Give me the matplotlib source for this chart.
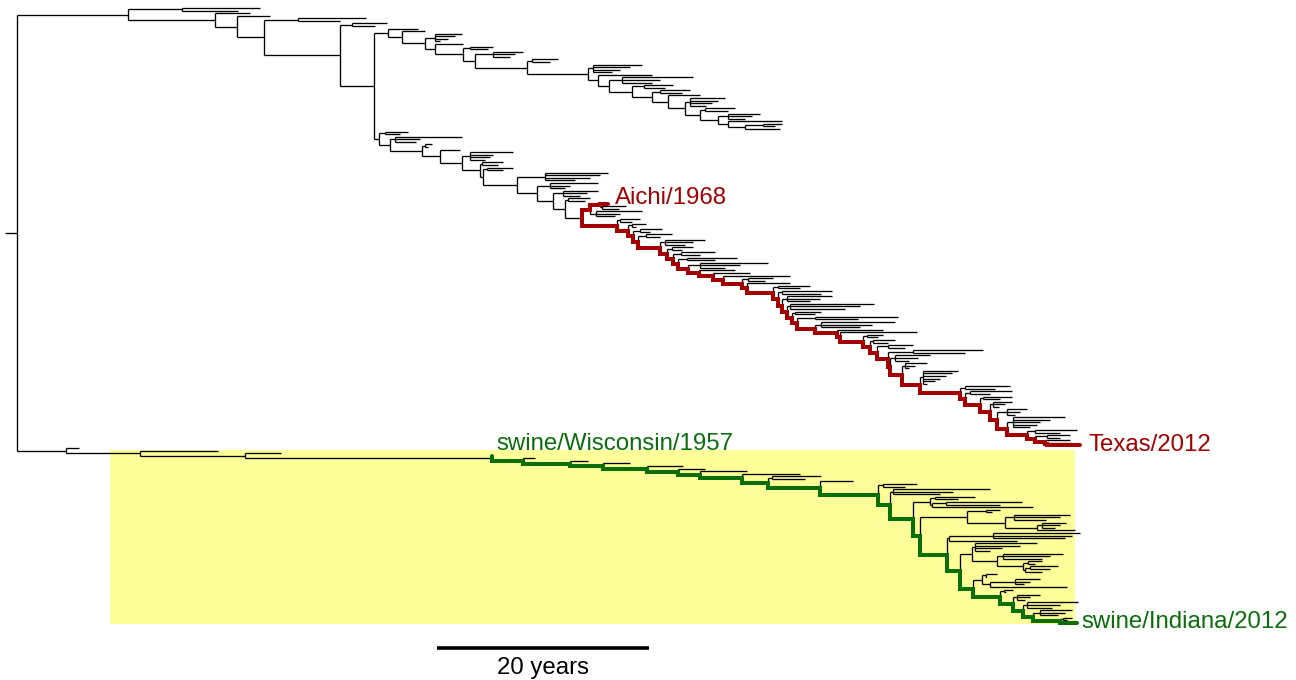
import matplotlib
matplotlib.use("Agg")
import matplotlib.pyplot as plt
from matplotlib.collections import LineCollection
from matplotlib.patches import Rectangle

# ---------------------------------------------------------------- data (years)
root_year = 1911.9
root_stub_year = 1910.8

# Each ladder: trunk node years, side-clade MRCA years (None = single tip),
# side-clade tip years (or name of a nested ladder), end of trunk.
early_nodes = [1922.4, 1930.6, 1932.7, 1935.2, 1942.4, 1945.6]
early_mrca = [1927.5, None, None, 1938.4, 1943.5, None]
early_tips = [[1934.8, 1932.8], [1933.9], [1935.8], [1944.8, 1942.4],
              [1946.8, 1945.7], "seasonal"]
early_end = "h3n2"

seasonal_nodes = [1946.9, 1948.2, 1950.4, 1951.3, 1954.0, 1955.1, 1960.0, 1965.8,
                  1966.7, 1967.8, 1969.9, 1971.8, 1973.3, 1974.9, 1976.3, 1978.0,
                  1979.0, 1980.6]
seasonal_mrca = [None, None, 1951.3, None, 1954.6, 1956.8, 1960.5, 1966.2,
                 None, 1969.0, 1971.1, 1972.6, None, 1975.4, 1976.8, 1979.0,
                 None, 1982.3]
seasonal_tips = [[1949.7], [1950.4], [1953.9, 1953.2, 1952.6, 1951.8], [1954.0],
                 [1956.8, 1956.3], [1959.6, 1958.9, 1958.4], [1962.9, 1962.2],
                 [1970.9, 1969.7, 1968.8, 1968.0], [1971.8],
                 [1975.7, 1972.6, 1971.8], [1973.8, 1973.0], [1975.4, 1974.6],
                 [1976.3], [1978.7, 1978.0, 1977.5, 1976.9], [1979.6, 1979.0],
                 [1982.0, 1981.2, 1980.6], [1984.1], [1984.1, 1983.4]]
seasonal_end = 1983.9

h3n2_nodes = [1946.1, 1947.1, 1950.1, 1951.8, 1953.9, 1955.6, 1955.9, 1959.1,
              1961.0, 1962.5, 1963.6]
h3n2_mrca = [1946.6, 1947.6, 1950.4, None, 1954.6, 1955.8, 1956.2, 1961.7,
             1962.2, 1963.4, 1963.9]
h3n2_tips = [[1948.8, 1948.0], [1953.9, 1949.9, 1949.5], [1951.1, 1950.7],
             [1953.7], [1958.7, 1956.8, 1956.5, 1956.1], [1957.8, 1957.3],
             [1958.7, 1957.8], [1967.7, 1966.9, 1966.0, 1964.5],
             [1966.7, 1964.1, 1963.6], [1966.7, 1965.7, 1965.0], [1966.0, 1965.5]]
h3n2_end = "red"

aichi_nodes = [1966.0, 1966.9]
aichi_mrca = [1966.5, 1967.1]
aichi_tips = [[1970.9, 1968.8, 1968.3], [1969.4, 1968.7]]
aichi_end = (1967.7, "Aichi/1968")

red_nodes = [1965.2, 1968.5, 1969.5, 1970.0, 1970.5, 1972.6, 1973.2, 1973.8, 1974.3,
             1975.2, 1976.2, 1977.6, 1978.5, 1980.3, 1980.8, 1983.2, 1983.7, 1984.1,
             1984.5, 1985.0, 1985.5, 1987.2, 1989.3, 1989.5, 1991.7, 1992.4, 1993.0,
             1994.1, 1994.3, 1995.4, 1997.1, 2000.9, 2001.3, 2002.8, 2003.7, 2004.4,
             2005.3, 2007.2, 2007.9, 2008.9, 2009.1]
red_mrca = [None, 1968.8, 1969.9, 1970.7, 1971.2, 1973.0, 1973.7, 1974.5, 1975.1,
            1976.3, None, None, None, 1980.9, None, 1983.7, 1984.1, 1984.5,
            1984.8, 1985.3, 1987.2, 1987.8, None, None, 1992.1, 1992.7, 1994.1,
            1996.4, 1994.7, 1995.7, 1997.4, 2001.3, 2001.8, 2003.0, 2004.0, 2005.3,
            2005.9, 2007.9, 2009.1, None, None]
red_tips = ["aichi", [1970.7, 1969.9], [1971.2, 1970.3], [1972.8, 1971.6],
            [1973.7, 1972.6], [1976.8, 1975.7, 1974.9], [1975.7, 1974.6],
            [1977.8, 1976.3], [1979.8, 1977.8], [1982.8, 1980.1, 1978.7],
            [1979.6], [1981.1], [1984.8], [1983.2, 1982.5], [1984.8],
            [1986.7, 1985.8], [1988.8, 1987.8], [1988.8, 1987.7, 1986.7],
            [1992.8, 1991.4, 1990.0], [1987.8, 1987.2], [1995.0, 1991.2],
            [1994.7, 1992.6, 1991.4], [1993.6], [1996.8], [1993.6, 1993.1],
            [1994.7, 1994.1], [1996.4, 1995.7], [2003.0, 2001.3],
            [1998.0, 1996.9, 1996.1], [1997.8, 1996.6, 1996.1],
            [2000.7, 2000.1, 1999.5, 1999.0, 1998.5, 1997.8], [2005.6, 2004.2],
            [2005.8, 2003.7], [2005.8, 2004.6], [2005.8, 2005.1, 2004.5],
            [2007.2, 2006.5, 2006.1], [2010.8, 2009.4, 2008.4, 2008.1, 2007.5],
            [2011.9, 2010.3], [2011.2, 2010.3], [2011.2], [2011.4]]
red_end = (2012.2, "Texas/2012")

swpre_nodes = [1916.5, 1923.5, 1933.4]
swpre_mrca = [None, None, None]
swpre_tips = [[1917.8], [1930.9], [1936.8]]
swpre_end = "swine"

swine_nodes = [1956.7, 1959.6, 1964.1, 1967.2, 1971.3, 1974.3, 1976.3, 1980.3,
               1982.8, 1987.7, 1993.1, 1994.3, 1996.4, 1997.1, 1999.6, 2000.9,
               2002.1, 2004.6, 2005.9, 2006.8, 2007.8, 2010.3]
swine_mrca = [None, None, None, None, None, None, None, None,
              1983.1, None, 1993.6, 1994.5, None, None, None, None,
              None, 2005.0, 2006.2, 2007.2, 2008.4, 2010.6]
swine_tips = [[(1956.7, "swine/Wisconsin/1957")], [1960.8], [1965.8], [1969.7],
              [1974.7], [1976.8], [1980.8], [1985.8], [1987.8, 1986.2],
              [1990.8], [1996.8, 1995.7], [2003.7, 2000.2, 1999.0],
              "swUb", "swU", "swM", "swB", "swL", [2005.9, 2005.2],
              [2008.4, 2007.5, 2007.0], [2012.0, 2010.3, 2009.5],
              [2011.4, 2010.8, 2010.1], [2011.4, 2011.0]]
swine_end = (2011.9, "swine/Indiana/2012")

swUb_nodes = [1998.0, 1998.2]
swUb_mrca = [1998.5, 1999.5]
swUb_tips = [[2002.3, 2000.7], [2006.7, 2004.6]]
swUb_end = 2007.8

swU_nodes = [2001.5, 2005.1, 2008.1]
swU_mrca = [2003.3, 2006.0, 2008.6]
swU_tips = [[2004.6, 2003.9], [2011.2, 2010.3, 2009.0], [2010.9, 2010.3, 2009.8]]
swU_end = 2011.7

swM_nodes = [1999.8]
swM_mrca = [2004.0]
swM_tips = [[2012.2, 2011.4, 2010.8]]
swM_end = 2006.2

swB_nodes = [2002.0, 2004.4, 2006.8, 2007.0]
swB_mrca = [2002.3, 2004.9, 2007.3, 2007.5]
swB_tips = [[2008.1, 2006.5, 2004.8, 2003.7], [2010.6, 2009.4, 2008.6],
            [2008.6, 2007.9], [2010.1, 2009.4]]
swB_end = 2008.6

swL_nodes = [2002.9, 2003.7]
swL_mrca = [2003.3, 2006.1]
swL_tips = [[2004.4, 2003.2], [2008.4, 2007.5, 2006.9]]
swL_end = 2011.0

highlight_years = [1920.7, 2011.7]
scale_years = 20

# ---------------------------------------------------------------- tree build
LADDERS = {
    "early": (early_nodes, early_mrca, early_tips, early_end, False),
    "seasonal": (seasonal_nodes, seasonal_mrca, seasonal_tips, seasonal_end, False),
    "h3n2": (h3n2_nodes, h3n2_mrca, h3n2_tips, h3n2_end, False),
    "aichi": (aichi_nodes, aichi_mrca, aichi_tips, aichi_end, True),
    "red": (red_nodes, red_mrca, red_tips, red_end, False),
    "swpre": (swpre_nodes, swpre_mrca, swpre_tips, swpre_end, False),
    "swine": (swine_nodes, swine_mrca, swine_tips, swine_end, False),
    "swUb": (swUb_nodes, swUb_mrca, swUb_tips, swUb_end, False),
    "swU": (swU_nodes, swU_mrca, swU_tips, swU_end, False),
    "swM": (swM_nodes, swM_mrca, swM_tips, swM_end, False),
    "swB": (swB_nodes, swB_mrca, swB_tips, swB_end, False),
    "swL": (swL_nodes, swL_mrca, swL_tips, swL_end, False),
}


class Node:
    def __init__(self, x, kids=None, label=None):
        self.x = x
        self.kids = kids or []
        self.label = label
        self.y = None
        self.parent = None
        for k in self.kids:
            k.parent = self


def make_tip(t):
    if isinstance(t, tuple):
        return Node(t[0], label=t[1])
    return Node(t)


def make_side(mrca, tips):
    if isinstance(tips, str):
        return build(tips)
    if len(tips) == 1:
        return make_tip(tips[0])
    return Node(mrca, [make_tip(t) for t in tips])


def build(name):
    nodes, mrca, tips, end, below = LADDERS[name]
    sub = build(end) if isinstance(end, str) else make_tip(end)
    for k in range(len(nodes) - 1, -1, -1):
        side = make_side(mrca[k], tips[k])
        sub = Node(nodes[k], [sub, side] if below else [side, sub])
    return sub


root = Node(root_year, [build("early"), build("swpre")])

# ---------------------------------------------------------------- layout (pixel-like y)
Y_TOP, Y_BOTTOM = 8.0, 623.0
tips = []


def collect_tips(n):
    if not n.kids:
        tips.append(n)
    for c in n.kids:
        collect_tips(c)


collect_tips(root)
dy = (Y_BOTTOM - Y_TOP) / (len(tips) - 1)
for i, t in enumerate(tips):
    t.y = Y_TOP + i * dy


def set_y(n):
    if n.kids:
        for c in n.kids:
            set_y(c)
        n.y = (n.kids[0].y + n.kids[-1].y) / 2.0


set_y(root)

segs = [[(root_stub_year, root.y), (root.x, root.y)]]


def collect_segs(n):
    if n.kids:
        ys = [c.y for c in n.kids]
        segs.append([(n.x, min(ys)), (n.x, max(ys))])
        for c in n.kids:
            segs.append([(n.x, c.y), (c.x, c.y)])
            collect_segs(c)


collect_segs(root)
labelled = {t.label: t for t in tips if t.label}


def chain(n):
    out = []
    while n is not None:
        out.append(n)
        n = n.parent
    return out


def path_points(a, b):
    ca, cb = chain(a), chain(b)
    ids_b = {id(n): i for i, n in enumerate(cb)}
    ia = next(i for i, n in enumerate(ca) if id(n) in ids_b)
    ib = ids_b[id(ca[ia])]
    pts = []
    for c in ca[:ia]:
        pts += [(c.x, c.y), (c.parent.x, c.y)]
    for c in reversed(cb[:ib]):
        pts += [(c.parent.x, c.y), (c.x, c.y)]
    return pts


# ---------------------------------------------------------------- draw
RED = "#A30000"
GREEN = "#0A6E0A"
FONT = "Liberation Sans"
FS = 17.3

fig = plt.figure(figsize=(12.96, 6.80), dpi=100)
ax = fig.add_axes([0, 0, 1, 1])
ax.set_xlim(2012 - 1078 / 10.6, 2012 + (1296 - 1078) / 10.6)
ax.set_ylim(680, 0)
ax.axis("off")

swpre_root = root.kids[1]
hl_top = swpre_root.kids[0].y + dy * 0.7
hl_bottom = labelled["swine/Indiana/2012"].y + 0.5
ax.add_patch(Rectangle((highlight_years[0], hl_top), highlight_years[1] - highlight_years[0],
                       hl_bottom - hl_top, facecolor="#FFFF99", edgecolor="none", zorder=0))

ax.add_collection(LineCollection(segs, colors="black", linewidths=0.95,
                                 capstyle="butt", zorder=1))

for (a, b), col in [(("Aichi/1968", "Texas/2012"), RED),
                    (("swine/Wisconsin/1957", "swine/Indiana/2012"), GREEN)]:
    pts = path_points(labelled[a], labelled[b])
    xs, ys = zip(*pts)
    ax.plot(xs, ys, color=col, lw=2.9, solid_capstyle="round",
            solid_joinstyle="miter", zorder=2)

px = 1 / 10.6  # one pixel in years
t = labelled["Aichi/1968"]
ax.text(t.x + 7 * px, t.y, "Aichi/1968", color=RED, fontsize=FS, family=FONT,
        ha="left", va="baseline", zorder=3)
t = labelled["Texas/2012"]
ax.text(t.x + 8 * px, t.y + 6, "Texas/2012", color=RED, fontsize=FS, family=FONT,
        ha="left", va="baseline", zorder=3)
t = labelled["swine/Wisconsin/1957"]
ax.text(t.x + 5 * px, t.y - 6, "swine/Wisconsin/1957", color=GREEN, fontsize=FS,
        family=FONT, ha="left", va="baseline", zorder=3)
t = labelled["swine/Indiana/2012"]
ax.text(t.x + 4 * px, t.y + 5, "swine/Indiana/2012", color=GREEN, fontsize=FS,
        family=FONT, ha="left", va="baseline", zorder=3)

bar_start = 1951.5
ax.plot([bar_start, bar_start + scale_years], [648, 648], color="black", lw=2.6,
        solid_capstyle="butt")
ax.text(bar_start + scale_years / 2, 674, f"{scale_years} years", color="black",
        fontsize=FS, family=FONT, ha="center", va="baseline")

fig.savefig("out.png", dpi=100, facecolor="white")
